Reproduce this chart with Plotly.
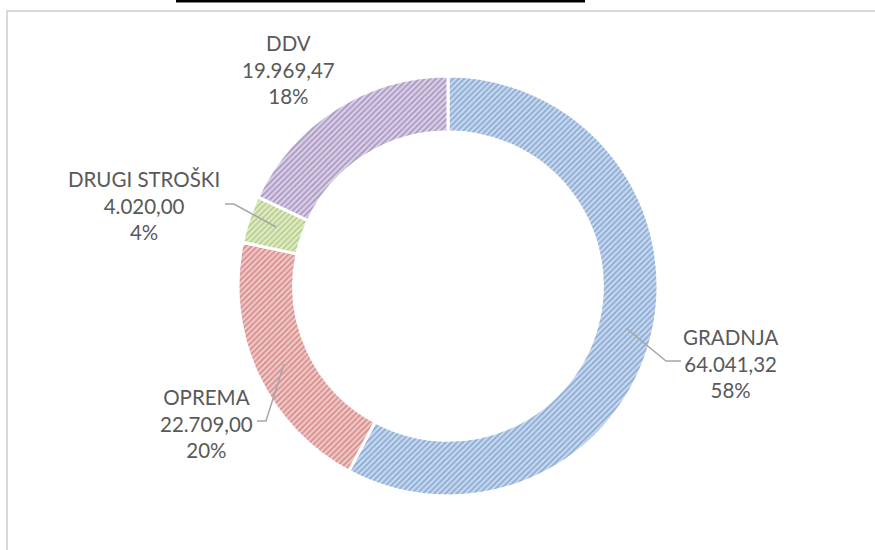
import plotly.graph_objects as go

# data
categories = ['GRADNJA', 'OPREMA', 'DRUGI STROŠKI', 'DDV']
amounts = [64041.32, 22709.00, 4020.00, 19969.47]
pct_labels = ['58%', '20%', '4%', '18%']

fg_colors = ['#4a7ebb', '#c0504d', '#8fb04a', '#7a5e9e']
bg_colors = ['#c9d8ee', '#efc9c8', '#e0ebc8', '#dad0e6']

W, H = 875, 550


def px(x):
	return x / W


def py(y):
	return 1 - y / H


def fmt_si(v):
	s = f'{v:,.2f}'
	return s.replace(',', 'X').replace('.', ',').replace('X', '.')


fig = go.Figure(go.Pie(
	labels=categories,
	values=amounts,
	hole=0.735,
	sort=False,
	direction='clockwise',
	rotation=0,
	textinfo='none',
	hoverinfo='label+value+percent',
	domain=dict(x=[px(238), px(658)], y=[py(496), py(76)]),
	marker=dict(
		colors=bg_colors,
		line=dict(color='white', width=3),
		pattern=dict(shape='/', fgcolor=fg_colors, bgcolor=bg_colors, size=4, solidity=0.45, fillmode='overlay'),
	),
	showlegend=False,
))

# label positions (pixels, centre of the text block)
label_pos = [(730, 363), (206, 423), (144, 206), (288, 70)]
for name, v, p, (lx, ly) in zip(categories, amounts, pct_labels, label_pos):
	fig.add_annotation(
		x=px(lx), y=py(ly), xref='paper', yref='paper',
		xanchor='center', yanchor='middle',
		text=f'{name}<br>{fmt_si(v)}<br>{p}',
		showarrow=False, align='center',
		font=dict(family='Lato', size=20.5, color='#595959'),
	)

# leader lines
leaders = [
	[(681, 361), (666, 361), (626, 328)],
	[(257, 421), (266, 421), (284, 364)],
	[(225, 204), (234, 204), (276, 227)],
]
for pts in leaders:
	path = 'M ' + ' L '.join(f'{px(x)},{py(y)}' for x, y in pts)
	fig.add_shape(type='path', path=path, xref='paper', yref='paper',
		line=dict(color='#a6a6a6', width=1.5))

# chart area border
fig.add_shape(type='rect', xref='paper', yref='paper',
	x0=px(7), x1=1.02, y0=-0.02, y1=py(11),
	line=dict(color='#d9d9d9', width=2))

# black bar at the top edge
fig.add_shape(type='line', xref='paper', yref='paper',
	x0=px(176), x1=px(585), y0=py(1), y1=py(1),
	line=dict(color='black', width=3))

fig.update_layout(
	width=W, height=H,
	margin=dict(l=0, r=0, t=0, b=0),
	paper_bgcolor='white',
	plot_bgcolor='white',
)

fig.write_html('out.html', config={'displayModeBar': False},
	post_script="document.body.style.margin='0';")
